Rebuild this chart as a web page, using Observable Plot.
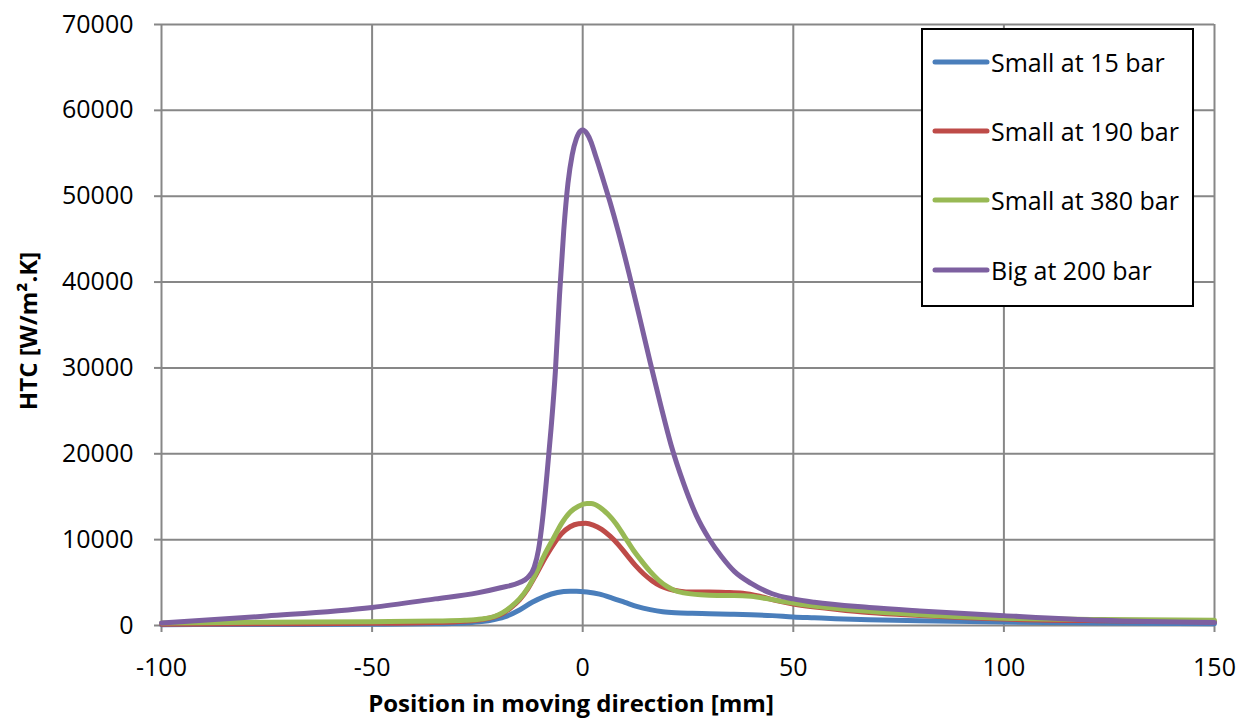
<!DOCTYPE html>
<html>
<head>
<meta charset="utf-8">
<script src="https://cdn.jsdelivr.net/npm/d3@7"></script>
<script src="https://cdn.jsdelivr.net/npm/@observablehq/plot@0.6"></script>
<style>
  body { margin: 0; background: #fff; }
  #wrap { position: relative; width: 1244px; height: 719px; font-family: "Open Sans", sans-serif; }
  #legend { position: absolute; left: 921px; top: 28px; width: 269px; height: 275px; border: 2px solid #000; background: #fff; }
  .item { position: absolute; left: 0; height: 30px; display: flex; align-items: center; }
  .item svg { margin-left: 9px; margin-right: 1px; }
  .item span { font-size: 25px; color: #000; line-height: 30px; white-space: nowrap; }
</style>
</head>
<body>
<div id="wrap"></div>
<script>
const seriesNames = ["Small at 15 bar", "Small at 190 bar", "Small at 380 bar", "Big at 200 bar"];
const seriesColors = ["#4A7EBB", "#BE4B48", "#98B954", "#7D60A0"];

const xSmall15 = [-100, -75, -50, -35, -28, -24, -21, -18, -15, -12, -9, -6, -3, -1.5, 1, 4, 7, 10, 13, 16, 19, 22, 26, 30, 35, 40, 45, 50, 55, 60, 68, 80, 100, 123, 150];
const ySmall15 = [100, 120, 150, 200, 300, 450, 700, 1100, 1800, 2700, 3400, 3850, 4000, 4000, 3900, 3650, 3200, 2700, 2200, 1850, 1600, 1480, 1420, 1380, 1320, 1250, 1150, 1000, 900, 800, 680, 550, 400, 300, 200];

const xSmall190 = [-100, -75, -50, -35, -28, -24, -21, -19, -17, -15, -13, -11, -9, -7, -5, -3, -1, 0.7, 2.5, 4.5, 6.5, 8.5, 10.5, 12.5, 14.5, 16.5, 18.5, 20.5, 23, 26, 30, 34, 38, 42, 46, 50, 60, 68, 80, 100, 123, 150];
const ySmall190 = [150, 200, 250, 350, 500, 700, 1000, 1400, 2100, 3000, 4300, 6000, 7800, 9400, 10700, 11500, 11850, 11900, 11700, 11200, 10400, 9400, 8200, 7000, 6000, 5200, 4600, 4250, 4000, 3900, 3900, 3850, 3750, 3400, 2900, 2500, 1900, 1500, 1150, 750, 550, 450];

const xSmall380 = [-100, -75, -50, -35, -28, -24, -21, -19, -17, -15, -13, -11, -9, -7, -5, -3, -1, 1, 2, 4, 6, 8, 10, 12, 14, 16, 18, 20, 22, 24, 28, 32, 36, 40, 44, 48, 52, 60, 68, 80, 100, 123, 150];
const ySmall380 = [300, 380, 450, 520, 600, 750, 1050, 1500, 2200, 3100, 4400, 6200, 8300, 10100, 11900, 13200, 13900, 14200, 14200, 13800, 12950, 11800, 10300, 8800, 7500, 6300, 5300, 4550, 4050, 3800, 3570, 3500, 3500, 3400, 3100, 2750, 2450, 2000, 1650, 1250, 850, 700, 600];

const xBig200 = [-100, -75, -50, -35, -25, -19.5, -15, -13, -11.5, -10.5, -9.5, -8.5, -7.5, -6.5, -5.5, -4.5, -3.5, -2.5, -1.5, -0.5, 0, 1, 2, 3, 4, 5, 6.5, 8.5, 11, 13.5, 16, 18.5, 21, 24, 27, 30, 33, 36, 40, 45, 50, 55, 68, 80, 100, 123, 150];
const yBig200 = [300, 1100, 2100, 3100, 3800, 4400, 5000, 5600, 6800, 8800, 12500, 17500, 23000, 29500, 38500, 46000, 51500, 54800, 56700, 57600, 57700, 57300, 56300, 54800, 53300, 51700, 49300, 45800, 41000, 35900, 30700, 25700, 21000, 16500, 12800, 10100, 8000, 6300, 4900, 3700, 3100, 2700, 2100, 1700, 1150, 600, 350];

const xTicks = [-100, -50, 0, 50, 100, 150];
const yTicks = [0, 10000, 20000, 30000, 40000, 50000, 60000, 70000];
const xTitle = "Position in moving direction [mm]";
const yTitle = "HTC [W/m².K]";

const seriesX = [xSmall15, xSmall190, xSmall380, xBig200];
const seriesY = [ySmall15, ySmall190, ySmall380, yBig200];
const rows = seriesX.map((xs, i) => xs.map((x, j) => ({series: seriesNames[i], x, y: seriesY[i][j]})));

const grid = "#878787";
const chart = Plot.plot({
  width: 1244,
  height: 719,
  marginLeft: 161,
  marginRight: 30,
  marginTop: 24,
  marginBottom: 94,
  style: {fontFamily: "'Open Sans', sans-serif", background: "#fff", color: "#000", overflow: "visible"},
  x: {domain: [-100, 150]},
  y: {domain: [0, 70000]},
  marks: [
    Plot.gridX(xTicks, {stroke: grid, strokeOpacity: 1, strokeWidth: 2}),
    Plot.gridY(yTicks, {stroke: grid, strokeOpacity: 1, strokeWidth: 2}),
    Plot.axisX(xTicks, {tickSize: 7, tickFormat: () => "", stroke: grid, strokeWidth: 2, label: null}),
    Plot.axisY(yTicks, {tickSize: 7, tickFormat: () => "", stroke: grid, strokeWidth: 2, label: null}),
    Plot.axisX(xTicks, {tickSize: 0, tickPadding: 33, tickFormat: d => String(d), fontSize: 25, color: "#000", label: null}),
    Plot.axisY(yTicks, {tickSize: 0, tickPadding: 28, tickFormat: d => String(d), fontSize: 25, color: "#000", label: null}),
    ...rows.map((r, i) => Plot.line(r, {x: "x", y: "y", stroke: seriesColors[i], strokeWidth: 5, curve: "monotone-x"})),
    Plot.text([yTitle], {frameAnchor: "left", textAnchor: "middle", lineAnchor: "middle", rotate: -90, dx: -132, dy: 6, fontWeight: "bold", fontSize: 24, fill: "#000"}),
    Plot.text([xTitle], {frameAnchor: "bottom", textAnchor: "middle", lineAnchor: "middle", dx: -117, dy: 79, fontWeight: "bold", fontSize: 24, fill: "#000"})
  ]
});

const wrap = document.getElementById("wrap");
wrap.appendChild(chart);

const legend = document.createElement("div");
legend.id = "legend";
const itemTops = [17, 86, 155, 225];
seriesNames.forEach((name, i) => {
  const it = document.createElement("div");
  it.className = "item";
  it.style.top = itemTops[i] + "px";
  it.innerHTML = `<svg width="58" height="10"><line x1="3" y1="5" x2="55" y2="5" stroke="${seriesColors[i]}" stroke-width="5" stroke-linecap="round"/></svg><span>${name}</span>`;
  legend.appendChild(it);
});
wrap.appendChild(legend);
</script>
</body>
</html>
